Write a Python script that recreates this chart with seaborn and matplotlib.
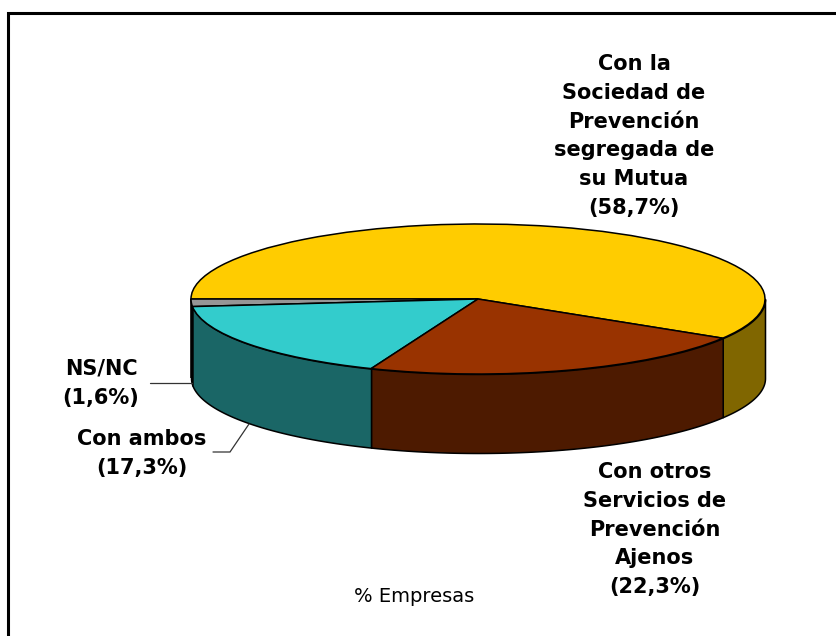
import numpy as np
import matplotlib
matplotlib.use("Agg")
import matplotlib.pyplot as plt
import seaborn as sns

sns.set_theme(style="white")
plt.rcParams["font.family"] = ["DejaVu Sans"]

W, H = 836, 636
CX, CY, RX, RY, DEPTH = 478, 299, 287, 75, 79

categories = ["Con la\nSociedad de\nPrevención\nsegregada de\nsu Mutua\n(58,7%)",
              "NS/NC\n(1,6%)",
              "Con ambos\n(17,3%)",
              "Con otros\nServicios de\nPrevención\nAjenos\n(22,3%)"]
values = [58.7, 1.6, 17.3, 22.3]
top_colours = ["#FFCC00", "#969696", "#33CCCC", "#993300"]
side_colours = ["#806600", "#4B4B4B", "#1A6666", "#4D1A00"]
START = -31.5
label_pos = [(634, 64), (101, 369), (142, 439), (655, 472)]

fig = plt.figure(figsize=(W / 100, H / 100), dpi=100)
ax = fig.add_axes([0, 0, 1, 1])

# flat top of the pie, squashed into an ellipse below
wedges, _ = ax.pie(values, colors=sns.color_palette(top_colours), startangle=START,
                   counterclock=True, normalize=True,
                   wedgeprops={"edgecolor": "black", "linewidth": 1.1, "zorder": 3})

# side walls, only the front half of each slice shows
edges = START + np.cumsum([0] + values) / np.sum(values) * 360
for i in range(len(values)):
    for shift in (0, 360):
        a0 = max(edges[i] + shift, 180)
        a1 = min(edges[i + 1] + shift, 360)
        if a1 <= a0:
            continue
        t = np.radians(np.linspace(a0, a1, 120))
        x, y = np.cos(t), np.sin(t)
        ax.fill_between(x, y, y - DEPTH / RY, color=side_colours[i],
                        edgecolor="black", linewidth=1.1, zorder=2)

ax.set_aspect("auto")
ax.set_xlim(-CX / RX, (W - CX) / RX)
ax.set_ylim((CY - H) / RY, CY / RY)
ax.axis("off")

def px(x, y):
    return x / W, 1 - y / H

# labels
for lab, (x, y) in zip(categories, label_pos):
    fx, fy = px(x, y - 10)
    fig.text(fx, fy, lab, ha="center", va="top", fontsize=15, fontweight="bold",
             color="black", linespacing=1.55)
fx, fy = px(414, 597)
fig.text(fx, fy, "% Empresas", ha="center", va="center", fontsize=14, color="black")

# leader lines and the chart frame
for xs, ys, lw, col in [([150, 192], [383, 383], 0.9, "#333333"),
                        ([213, 230, 249], [452, 452, 424], 0.9, "#333333"),
                        ([7.5, 7.5, W], [H, 13, 13], 2.2, "black")]:
    fig.add_artist(plt.Line2D([v / W for v in xs], [1 - v / H for v in ys],
                              color=col, linewidth=lw, solid_joinstyle="miter"))

fig.savefig("out.png", dpi=100)
